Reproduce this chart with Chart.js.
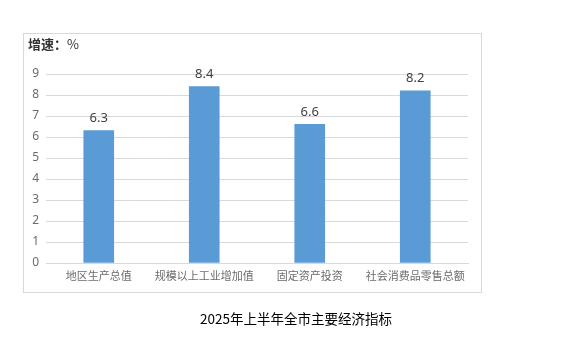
<!DOCTYPE html>
<html><head><meta charset="utf-8">
<script src="https://cdn.jsdelivr.net/npm/chart.js@4/dist/chart.umd.min.js"></script>
<style>
body{margin:0;background:#fff;width:568px;height:351px;overflow:hidden;position:relative;font-family:"Noto Sans CJK SC","Noto Sans",sans-serif;}
#box{position:absolute;left:23px;top:33px;width:457px;height:258px;border:1px solid #D9D9D9;box-sizing:content-box;}
#unit{position:absolute;left:28px;top:36px;font-size:13px;color:#333;line-height:16px;}
#unit b{font-weight:bold;}
#cap{position:absolute;left:0;width:592px;top:308px;text-align:center;font-size:13.5px;color:#000;line-height:20px;}
#c{position:absolute;left:0;top:0;}
</style></head>
<body>
<div id="box"></div>
<canvas id="c" width="568" height="351"></canvas>
<div id="unit"><b>增速：</b>%</div>
<div id="cap">2025年上半年全市主要经济指标</div>
<script>
const categories = ["地区生产总值","规模以上工业增加值","固定资产投资","社会消费品零售总额"];
const growth = [6.3, 8.4, 6.6, 8.2];
const yTicks = [0,1,2,3,4,5,6,7,8,9];

const valueLabels = {
  id:'valueLabels',
  afterDatasetsDraw(chart){
    const ctx = chart.ctx;
    const meta = chart.getDatasetMeta(0);
    ctx.save();
    ctx.font = '13px "Liberation Sans Narrow", "Noto Sans", sans-serif';
    ctx.fillStyle = '#404040';
    ctx.textAlign = 'center';
    ctx.textBaseline = 'bottom';
    meta.data.forEach((bar,i)=>{
      ctx.fillText(growth[i].toFixed(1), bar.x, bar.y - 6);
    });
    ctx.restore();
  }
};

new Chart(document.getElementById('c'), {
  type:'bar',
  data:{labels:categories, datasets:[{data:growth, backgroundColor:'#5B9BD5', barThickness:30}]},
  options:{
    responsive:false, animation:false,
    layout:{padding:{left:23,right:100,top:74,bottom:58}},
    plugins:{legend:{display:false}, tooltip:{enabled:false}},
    scales:{
      x:{
        grid:{display:false, drawTicks:false},
        border:{display:true, color:'#D9D9D9'},
        ticks:{color:'#6b6b6b', font:{size:11, family:'"Noto Sans CJK SC", sans-serif'}, padding:6, maxRotation:0, autoSkip:false},
        afterFit(s){s.height=30;}
      },
      y:{
        min:0, max:9,
        afterBuildTicks(s){s.ticks = yTicks.map(v=>({value:v}));},
        grid:{color:'#D9D9D9', drawTicks:false},
        border:{display:false},
        ticks:{color:'#6b6b6b', font:{size:12, family:'"Noto Sans", sans-serif'}, padding:7},
        afterFit(s){s.width=23;}
      }
    }
  },
  plugins:[valueLabels]
});
</script>
</body></html>
